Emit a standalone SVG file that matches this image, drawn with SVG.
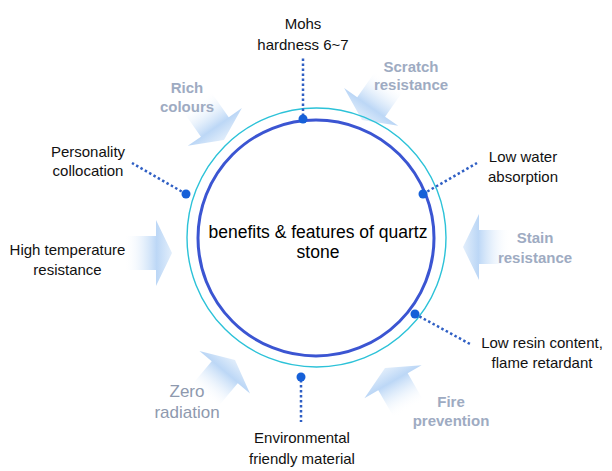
<svg xmlns="http://www.w3.org/2000/svg" width="612" height="471" viewBox="0 0 612 471">
<defs>
<linearGradient id="ag" x1="-48" y1="0" x2="0" y2="0" gradientUnits="userSpaceOnUse">
<stop offset="0" stop-color="#ffffff" stop-opacity="0"/>
<stop offset="0.45" stop-color="#d3e5f9" stop-opacity="0.7"/>
<stop offset="0.68" stop-color="#bcd7f6"/>
<stop offset="1" stop-color="#e2eefb"/>
</linearGradient>
<path id="arrow" d="M0,0 L-16,-33 L-16,-17 L-48,-17 L-48,17 L-16,17 L-16,33 Z"/>
</defs>
<style>
.lbl{font-family:"Liberation Sans",Arial,sans-serif;font-size:15px;fill:#111;text-anchor:middle}
.gl{font-family:"Liberation Sans",Arial,sans-serif;font-size:15px;font-weight:bold;fill:#9eabc2;text-anchor:middle}
.gr{font-family:"Liberation Sans",Arial,sans-serif;font-size:17px;fill:#8e99ae;text-anchor:middle}
.ctr{font-family:"Liberation Sans",Arial,sans-serif;font-size:17.5px;fill:#000;text-anchor:middle}
.dl{stroke:#2f5fc4;stroke-width:2.5;stroke-dasharray:2.5 2.5;fill:none}
.dot{fill:#1660d8}
.arr{fill:url(#ag)}
</style>
<rect width="612" height="471" fill="#ffffff"/>

<g id="arrows">
<use href="#arrow" class="arr" transform="translate(224,140) rotate(55)"/>
<use href="#arrow" class="arr" transform="translate(362,120) rotate(125)"/>
<use href="#arrow" class="arr" transform="translate(463,247) rotate(180)"/>
<use href="#arrow" class="arr" transform="translate(385,368) rotate(240)"/>
<use href="#arrow" class="arr" transform="translate(235,360) rotate(310)"/>
<use href="#arrow" class="arr" transform="translate(172,253) rotate(0)"/>
</g>

<g id="center">
<circle cx="316.5" cy="237.5" r="129.5" fill="none" stroke="#2cc2d8" stroke-width="1.4"/>
<circle cx="316" cy="238" r="118" fill="#ffffff" stroke="#3b55d2" stroke-width="3"/>
<text class="ctr" x="318" y="238">benefits &amp; features of quartz</text>
<text class="ctr" x="318" y="258">stone</text>
</g>

<g id="connectors">
<line class="dl" x1="303" y1="116" x2="303" y2="57"/>
<line class="dl" x1="423" y1="194" x2="477" y2="163"/>
<line class="dl" x1="186" y1="194" x2="132" y2="163"/>
<line class="dl" x1="415" y1="314" x2="470" y2="344"/>
<line class="dl" x1="301" y1="380" x2="301" y2="422"/>
<circle class="dot" cx="303" cy="119" r="4.5"/>
<circle class="dot" cx="423" cy="194" r="4.5"/>
<circle class="dot" cx="186" cy="194" r="4.5"/>
<circle class="dot" cx="415" cy="314" r="4.5"/>
<circle class="dot" cx="301" cy="377" r="4.5"/>
</g>

<g id="mohs"><text class="lbl" x="303" y="29">Mohs</text><text class="lbl" x="303" y="50">hardness 6~7</text></g>
<g id="water"><text class="lbl" x="523" y="162">Low water</text><text class="lbl" x="523" y="182">absorption</text></g>
<g id="personality"><text class="lbl" x="88" y="157">Personality</text><text class="lbl" x="88" y="176">collocation</text></g>
<g id="resin"><text class="lbl" x="542" y="348">Low resin content,</text><text class="lbl" x="542" y="368">flame retardant</text></g>
<g id="env"><text class="lbl" x="302" y="443">Environmental</text><text class="lbl" x="302" y="464">friendly material</text></g>
<g id="hightemp"><text class="lbl" x="67.5" y="255">High temperature</text><text class="lbl" x="67.5" y="275">resistance</text></g>

<g id="rich"><text class="gl" x="187" y="93">Rich</text><text class="gl" x="187" y="112">colours</text></g>
<g id="scratch"><text class="gl" x="411" y="72">Scratch</text><text class="gl" x="411" y="90">resistance</text></g>
<g id="stain"><text class="gl" x="535" y="243">Stain</text><text class="gl" x="535" y="263">resistance</text></g>
<g id="fire"><text class="gl" x="451" y="407">Fire</text><text class="gl" x="451" y="426">prevention</text></g>
<g id="zero"><text class="gr" x="187" y="397">Zero</text><text class="gr" x="187" y="418">radiation</text></g>
</svg>
